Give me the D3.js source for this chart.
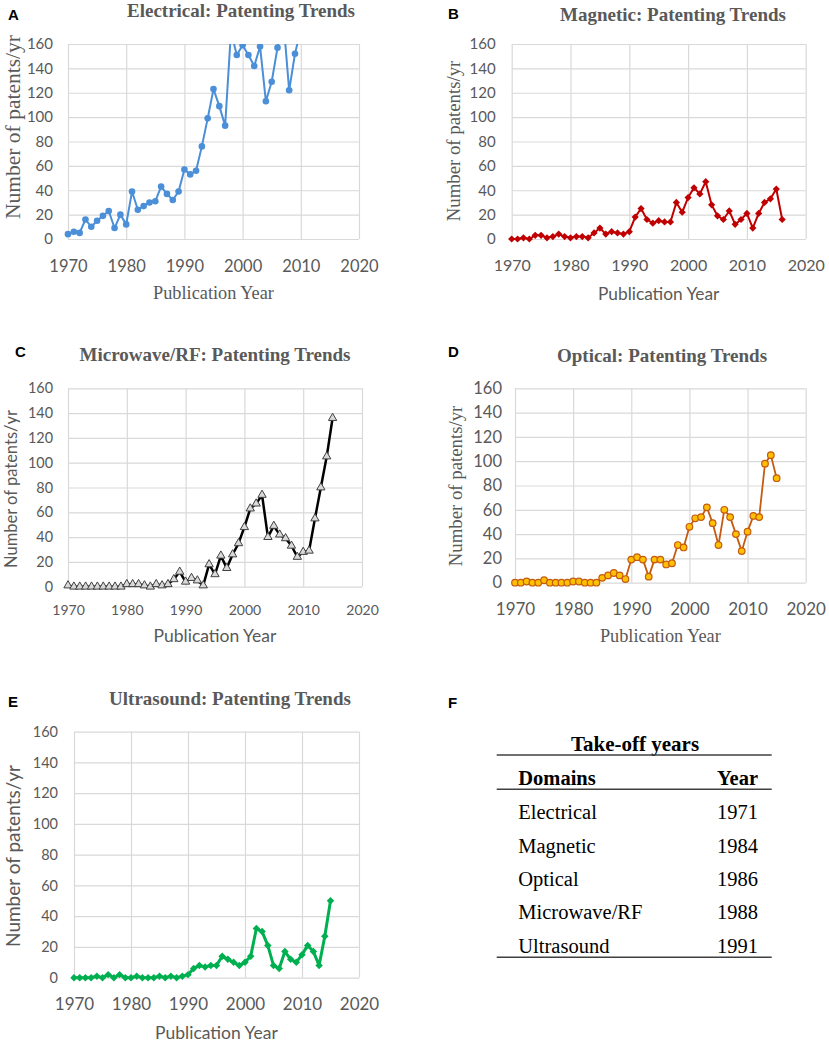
<!DOCTYPE html>
<html>
<head>
<meta charset="utf-8">
<script src="https://cdn.jsdelivr.net/npm/d3@7"></script>
<style>
  body { margin: 0; background: #fff; }
  svg { display: block; }
</style>
</head>
<body>
<svg id="fig" width="829" height="1043"></svg>
<script>
// patents per year, first value is 1970
var firstYear = 1970;
var electrical = [4, 6, 5, 16, 10, 15, 19, 23, 9, 20,
  12, 39, 24, 27, 30, 31, 43, 37, 32, 39,
  57, 53, 56, 76, 99, 123, 109, 93, 170, 151,
  159, 151, 142, 158, 113, 129, 157, 180, 122, 152,
  172];
var magnetic = [0, 0, 1, 0, 3, 3, 1, 2, 4, 2,
  1, 2, 2, 1, 5, 9, 4, 6, 5, 4,
  6, 18, 25, 16, 13, 15, 14, 14, 30, 22,
  34, 42, 37, 47, 28, 19, 16, 23, 12, 16,
  21, 9, 21, 30, 33, 41, 16];
var microwave = [1, 0, 0, 0, 0, 0, 0, 0, 0, 0,
  2, 2, 2, 1, 0, 2, 1, 2, 6, 12,
  4, 7, 5, 1, 18, 10, 25, 15, 26, 35,
  48, 63, 67, 74, 40, 49, 42, 39, 33, 24,
  28, 29, 55, 80, 105, 136];
var optical = [0, 0, 1, 0, 0, 2, 0, 0, 0, 0,
  1, 1, 0, 0, 0, 4, 6, 8, 6, 3,
  19, 21, 19, 5, 19, 19, 15, 16, 31, 29,
  46, 53, 54, 62, 49, 31, 60, 54, 40, 26,
  42, 55, 54, 98, 105, 86];
var ultrasound = [0, 0, 0, 0, 1, 0, 2, 0, 2, 0,
  0, 1, 0, 0, 0, 1, 0, 1, 0, 1,
  2, 6, 8, 7, 8, 8, 14, 12, 10, 8,
  10, 14, 32, 30, 21, 8, 6, 17, 12, 10,
  15, 21, 17, 8, 27, 50];

var xTicks = [1970, 1980, 1990, 2000, 2010, 2020];
var yTicks = [0, 20, 40, 60, 80, 100, 120, 140, 160];

// table F
var tableTitle = 'Take-off years';
var tableHeader = ['Domains', 'Year'];
var domains = ['Electrical', 'Magnetic', 'Optical', 'Microwave/RF', 'Ultrasound'];
var takeoffYears = [1971, 1984, 1986, 1988, 1991];

var SERIF = '"Liberation Serif", "Times New Roman", serif';
var SANS = 'Lato, "Open Sans", sans-serif';
var GREY = '#595959';

var panels = [
  {letter: 'A', title: 'Electrical: Patenting Trends', values: electrical,
    box: [68, 359, 44, 239], letterPos: [8, 20], titlePos: [241, 17],
    yTitle: {font: SERIF, size: 21.5, x: 19.5, y: 127},
    xTitle: {font: SERIF, size: 18.3, y: 299},
    xTick: {size: 16.5, base: 33}, yTick: {size: 15, pad: 15},
    line: {color: '#4A8FD8', width: 2}, marker: 'circle', mk: {fill: '#4A8FD8', stroke: 'none', r: 3.3}},
  {letter: 'B', title: 'Magnetic: Patenting Trends', values: magnetic,
    box: [511.7, 805.7, 44, 239], letterPos: [448, 19], titlePos: [673, 21],
    yTitle: {font: SERIF, size: 18.8, x: 460, y: 141},
    xTitle: {font: SANS, size: 17.3, y: 300},
    xTick: {size: 16, base: 32}, yTick: {size: 15, pad: 16},
    line: {color: '#C00000', width: 2}, marker: 'diamond', mk: {fill: '#C00000', stroke: 'none', size: 26}},
  {letter: 'C', title: 'Microwave/RF: Patenting Trends', values: microwave,
    box: [68, 362, 388.3, 586.7], letterPos: [15, 357], titlePos: [215, 361],
    yTitle: {font: SANS, size: 16.5, x: 17, y: 489},
    xTitle: {font: SANS, size: 17.5, y: 642},
    xTick: {size: 14, base: 28}, yTick: {size: 14.4, pad: 15},
    line: {color: '#000000', width: 2.5}, marker: 'triangle', mk: {fill: '#d9d9d9', stroke: '#404040', size: 30}},
  {letter: 'D', title: 'Optical: Patenting Trends', values: optical,
    box: [515, 805.7, 388.3, 582.7], letterPos: [448, 357], titlePos: [662, 362],
    yTitle: {font: SERIF, size: 18.8, x: 462, y: 486},
    xTitle: {font: SERIF, size: 18.3, y: 642},
    xTick: {size: 17, base: 32}, yTick: {size: 16.5, pad: 13},
    line: {color: '#C55A11', width: 1.8}, marker: 'circle', mk: {fill: '#FFC000', stroke: '#C55A11', r: 3.3}},
  {letter: 'E', title: 'Ultrasound: Patenting Trends', values: ultrasound,
    box: [74, 359, 731.7, 977.7], letterPos: [8, 707], titlePos: [230, 705],
    yTitle: {font: SANS, size: 19, x: 20, y: 856},
    xTitle: {font: SANS, size: 17.5, y: 1039},
    xTick: {size: 17, base: 32}, yTick: {size: 14.5, pad: 16},
    line: {color: '#00B050', width: 3}, marker: 'diamond', mk: {fill: '#00B050', stroke: 'none', size: 28}}
];

var svg = d3.select('#fig');

function drawPanel(p, i) {
  var x0 = p.box[0], x1 = p.box[1], y0 = p.box[2], y1 = p.box[3];
  var x = d3.scaleLinear().domain([1970, 2020]).range([x0, x1]);
  var y = d3.scaleLinear().domain([0, 160]).range([y1, y0]);
  var g = svg.append('g');

  // panel letter and title
  g.append('text').attr('x', p.letterPos[0]).attr('y', p.letterPos[1])
    .style('font-family', '"Liberation Sans", Arial, sans-serif')
    .style('font-weight', 'bold').style('font-size', '15px').attr('fill', '#000')
    .text(p.letter);
  g.append('text').attr('x', p.titlePos[0]).attr('y', p.titlePos[1])
    .attr('text-anchor', 'middle')
    .style('font-family', SERIF).style('font-weight', 'bold').style('font-size', '19px')
    .attr('fill', GREY).text(p.title);

  // gridlines + tick labels from the axes
  var xa = g.append('g').attr('transform', 'translate(0,' + y1 + ')')
    .call(d3.axisBottom(x).tickValues(xTicks).tickFormat(d3.format('d'))
      .tickSize(-(y1 - y0)));
  xa.selectAll('text').attr('y', p.xTick.base).attr('dy', null)
    .style('font-size', p.xTick.size + 'px');

  var ya = g.append('g').attr('transform', 'translate(' + x0 + ',0)')
    .call(d3.axisLeft(y).tickValues(yTicks).tickSize(-(x1 - x0)).tickPadding(p.yTick.pad));
  ya.selectAll('text').style('font-size', p.yTick.size + 'px');

  [xa, ya].forEach(function (a) {
    a.select('.domain').remove();
    a.selectAll('line').attr('stroke', '#d9d9d9').attr('stroke-width', 1.2);
    a.selectAll('text').attr('fill', GREY).style('font-family', SANS);
  });

  // axis titles
  g.append('text')
    .attr('transform', 'translate(' + p.yTitle.x + ',' + p.yTitle.y + ') rotate(-90)')
    .attr('text-anchor', 'middle')
    .style('font-family', p.yTitle.font).style('font-size', p.yTitle.size + 'px')
    .attr('fill', GREY).text('Number of patents/yr');
  g.append('text').attr('x', (x0 + x1) / 2).attr('y', p.xTitle.y)
    .attr('text-anchor', 'middle')
    .style('font-family', p.xTitle.font).style('font-size', p.xTitle.size + 'px')
    .attr('fill', GREY).text('Publication Year');

  // series, clipped to the plot area
  var clipId = 'clip' + i;
  svg.append('clipPath').attr('id', clipId).append('rect')
    .attr('x', x0 - 6).attr('y', y0).attr('width', x1 - x0 + 12).attr('height', y1 - y0 + 8);

  var pts = p.values.map(function (v, k) { return {year: firstYear + k, v: v}; });
  var s = g.append('g').attr('clip-path', 'url(#' + clipId + ')');

  s.append('path').datum(pts)
    .attr('fill', 'none').attr('stroke', p.line.color)
    .attr('stroke-width', p.line.width).attr('stroke-linejoin', 'round')
    .attr('d', d3.line().x(function (d) { return x(d.year); }).y(function (d) { return y(d.v); }));

  var m = s.selectAll('.mk').data(pts).enter();
  if (p.marker === 'circle') {
    m.append('circle')
      .attr('cx', function (d) { return x(d.year); })
      .attr('cy', function (d) { return y(d.v); })
      .attr('r', p.mk.r).attr('fill', p.mk.fill)
      .attr('stroke', p.mk.stroke).attr('stroke-width', 1.2);
  } else {
    var sym = p.marker === 'triangle' ? d3.symbolTriangle : d3.symbolSquare;
    var rot = p.marker === 'diamond' ? ' rotate(45)' : '';
    m.append('path')
      .attr('d', d3.symbol().type(sym).size(p.mk.size))
      .attr('transform', function (d) { return 'translate(' + x(d.year) + ',' + y(d.v) + ')' + rot; })
      .attr('fill', p.mk.fill).attr('stroke', p.mk.stroke).attr('stroke-width', 1);
  }
}

panels.forEach(drawPanel);

// F: take-off table
var t = svg.append('g').style('font-family', SERIF).attr('fill', '#000');
t.append('text').attr('x', 448).attr('y', 708)
  .style('font-family', '"Liberation Sans", Arial, sans-serif')
  .style('font-weight', 'bold').style('font-size', '15px').text('F');

var rowY = d3.scalePoint().domain(domains).range([819.3, 952.7]);
var colX = [518.3, 717];

t.append('text').attr('x', 635).attr('y', 750.5).attr('text-anchor', 'middle')
  .style('font-weight', 'bold').style('font-size', '21px').text(tableTitle);
t.selectAll('.hd').data(tableHeader).enter().append('text')
  .attr('x', function (d, k) { return colX[k]; }).attr('y', 785.3)
  .style('font-weight', 'bold').style('font-size', '20.5px')
  .text(function (d) { return d; });

t.selectAll('.dom').data(domains).enter().append('text')
  .attr('x', colX[0]).attr('y', function (d) { return rowY(d); })
  .style('font-size', '20.5px').text(function (d) { return d; });
t.selectAll('.yr').data(takeoffYears).enter().append('text')
  .attr('x', colX[1]).attr('y', function (d, k) { return rowY(domains[k]); })
  .style('font-size', '20.5px').text(function (d) { return d; });

[755, 789.3, 957.3].forEach(function (ly) {
  t.append('line').attr('x1', 496.7).attr('x2', 771.7).attr('y1', ly).attr('y2', ly)
    .attr('stroke', '#404040').attr('stroke-width', 1.6);
});
</script>
</body>
</html>
